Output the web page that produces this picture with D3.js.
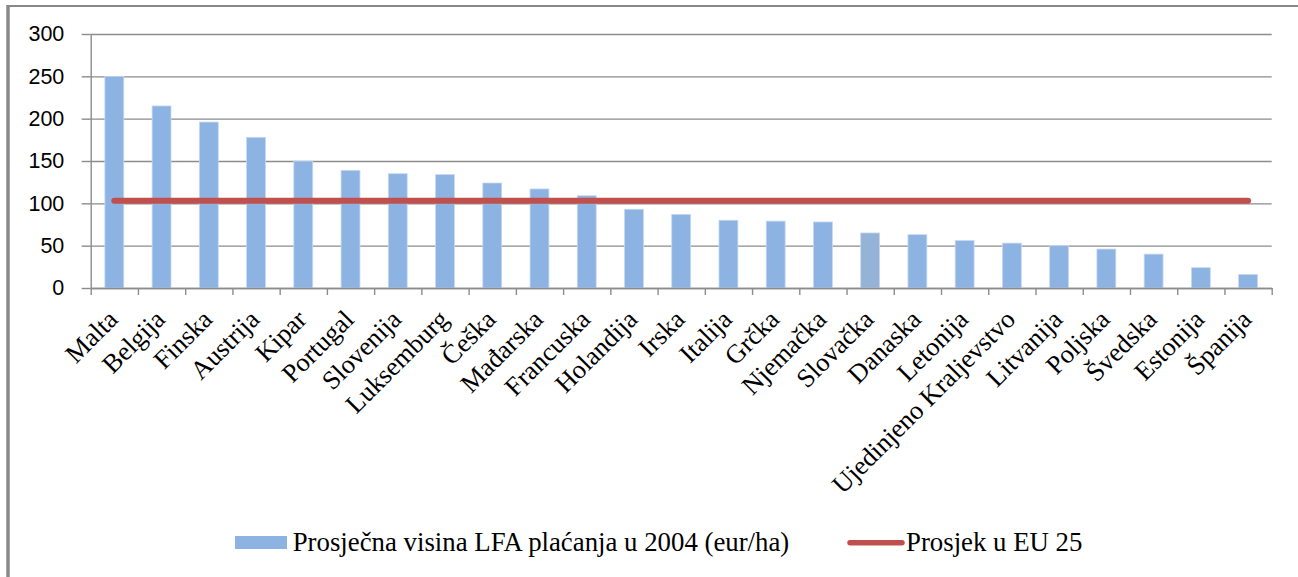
<!DOCTYPE html>
<html>
<head>
<meta charset="utf-8">
<script src="https://cdn.jsdelivr.net/npm/d3@7"></script>
<style>
  body { margin: 0; background: #fff; }
  svg { display: block; }
</style>
</head>
<body>
<div id="chart-container"></div>
<script>
// data
var countries = ["Malta", "Belgija", "Finska", "Austrija", "Kipar", "Portugal", "Slovenija",
  "Luksemburg", "Češka", "Mađarska", "Francuska", "Holandija", "Irska", "Italija", "Grčka",
  "Njemačka", "Slovačka", "Danaska", "Letonija", "Ujedinjeno Kraljevstvo", "Litvanija",
  "Poljska", "Švedska", "Estonija", "Španija"];
var payments = [250, 215, 196, 178, 150, 139, 135, 134, 124, 117, 109, 93, 87, 80, 79,
  78, 65, 63, 56, 53, 50, 46, 40, 24, 16];
var euAverage = 103;
var yTicks = [0, 50, 100, 150, 200, 250, 300];
var seriesNames = ["Prosječna visina LFA plaćanja u 2004 (eur/ha)", "Prosjek u EU 25"];

var W = 1298, H = 577;
var margin = { top: 34, right: 26.3, bottom: 289, left: 90.7 };
var width = W - margin.left - margin.right;
var height = H - margin.top - margin.bottom;

var barColor = "#8db3e2";
var lineColor = "#c0504d";
var gridColor = "#8c8c8c";

var root = d3.select("#chart-container").append("svg")
  .attr("width", W)
  .attr("height", H);

root.append("rect").attr("width", W).attr("height", H).attr("fill", "#fff");

// outer frame (only top and left edges are visible)
root.append("line")
  .attr("x1", 8).attr("x2", W).attr("y1", 6).attr("y2", 6)
  .attr("stroke", "#888").attr("stroke-width", 2.2);
root.append("line")
  .attr("x1", 8).attr("x2", 8).attr("y1", 5).attr("y2", H)
  .attr("stroke", "#888").attr("stroke-width", 3.5);

var svg = root.append("g")
  .attr("transform", "translate(" + margin.left + "," + margin.top + ")");

var x = d3.scaleBand()
  .domain(countries)
  .range([0, width])
  .paddingInner(0.6)
  .paddingOuter(0.3);

var xTick = d3.scaleLinear()
  .domain([0, countries.length])
  .range([0, width]);

var y = d3.scaleLinear()
  .domain([0, 300])
  .range([height, 0]);

// grid
svg.append("g")
  .attr("class", "grid")
  .call(d3.axisLeft(y).tickValues(yTicks).tickSize(-width).tickFormat(""))
  .call(function(g) {
    g.select(".domain").remove();
    g.selectAll("line").attr("stroke", gridColor).attr("stroke-width", 1.4);
  });

// y axis
svg.append("g")
  .attr("class", "y axis")
  .call(d3.axisLeft(y).tickValues(yTicks).tickSize(9).tickPadding(17.4).tickSizeOuter(0))
  .call(function(g) {
    g.select(".domain").attr("stroke", gridColor).attr("stroke-width", 1.4);
    g.selectAll("line").attr("stroke", gridColor).attr("stroke-width", 1.4);
    g.selectAll("text")
      .attr("font-family", "'Liberation Sans', Arial, sans-serif")
      .attr("font-size", "21.5px")
      .attr("fill", "#000");
  });

// bars
svg.selectAll("rect.bar")
  .data(countries)
  .enter()
  .append("rect")
  .attr("class", "bar")
  .attr("x", function(d) { return x(d); })
  .attr("width", x.bandwidth())
  .attr("y", function(d, i) { return y(payments[i]); })
  .attr("height", function(d, i) { return height - y(payments[i]); })
  .attr("fill", function(d) { return d === "Slovačka" ? "#95b3d7" : barColor; })
  .attr("stroke", "#c6d9f1")
  .attr("stroke-width", 0.8);

// x axis
svg.append("g")
  .attr("class", "x axis")
  .attr("transform", "translate(0," + height + ")")
  .call(d3.axisBottom(xTick).tickValues(d3.range(countries.length + 1)).tickSize(7).tickFormat("").tickSizeOuter(0))
  .call(function(g) {
    g.select(".domain").attr("stroke", gridColor).attr("stroke-width", 1.4);
    g.selectAll("line").attr("stroke", gridColor).attr("stroke-width", 1.4);
  });

// rotated category labels
svg.append("g")
  .selectAll("text")
  .data(countries)
  .enter()
  .append("text")
  .attr("transform", function(d) {
    return "translate(" + (x(d) + x.bandwidth() / 2 + 5) + "," + (height + 33) + ") rotate(-45)";
  })
  .attr("text-anchor", "end")
  .attr("font-family", "'Liberation Serif', 'Times New Roman', serif")
  .attr("font-size", "26.3px")
  .attr("fill", "#000")
  .text(function(d) { return d; });

// EU average line
var avgLine = d3.line()
  .x(function(d) { return x(d) + x.bandwidth() / 2; })
  .y(function() { return y(euAverage); });

svg.append("path")
  .datum([countries[0], countries[countries.length - 1]])
  .attr("d", avgLine)
  .attr("fill", "none")
  .attr("stroke", lineColor)
  .attr("stroke-width", 6)
  .attr("stroke-linecap", "round");

// legend
var legend = root.append("g").attr("class", "legend");
legend.append("rect")
  .attr("x", 235).attr("y", 536).attr("width", 52).attr("height", 13)
  .attr("fill", barColor);
legend.append("text")
  .attr("x", 292.7).attr("y", 551)
  .attr("font-family", "'Liberation Serif', 'Times New Roman', serif")
  .attr("font-size", "26.8px")
  .text(seriesNames[0]);
legend.append("line")
  .attr("x1", 850).attr("x2", 902).attr("y1", 542.7).attr("y2", 542.7)
  .attr("stroke", lineColor).attr("stroke-width", 5.5).attr("stroke-linecap", "round");
legend.append("text")
  .attr("x", 906).attr("y", 551)
  .attr("font-family", "'Liberation Serif', 'Times New Roman', serif")
  .attr("font-size", "26.8px")
  .text(seriesNames[1]);
</script>
</body>
</html>
